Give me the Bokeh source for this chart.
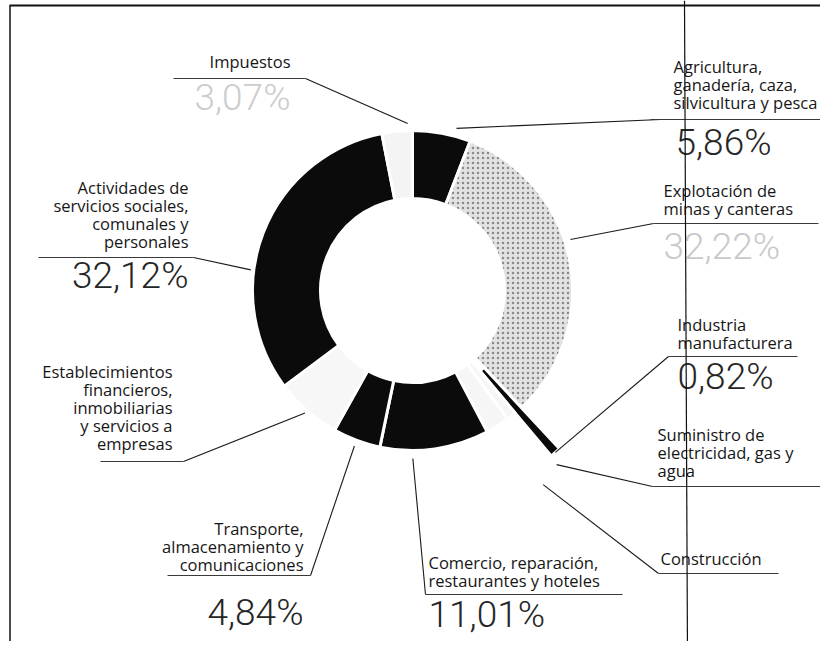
import math
from bokeh.plotting import figure
from bokeh.models import ColumnDataSource, Range1d
from bokeh.core.properties import value
from bokeh.embed import file_html
from bokeh.resources import INLINE

# ---------------- data ----------------
sectors = [
    "Agricultura, ganadería, caza, silvicultura y pesca",
    "Explotación de minas y canteras",
    "Industria manufacturera",
    "Suministro de electricidad, gas y agua",
    "Construcción",
    "Comercio, reparación, restaurantes y hoteles",
    "Transporte, almacenamiento y comunicaciones",
    "Establecimientos financieros, inmobiliarias y servicios a empresas",
    "Actividades de servicios sociales, comunales y personales",
    "Impuestos",
]
shares = [5.86, 32.22, 0.82, 0.95, 2.41, 11.01, 4.84, 6.70, 32.12, 3.07]
label_lines = [
    ["Agricultura,", "ganadería, caza,", "silvicultura y pesca"],
    ["Explotación de", "minas y canteras"],
    ["Industria", "manufacturera"],
    ["Suministro de", "electricidad, gas y", "agua"],
    ["Construcción"],
    ["Comercio, reparación,", "restaurantes y hoteles"],
    ["Transporte,", "almacenamiento y", "comunicaciones"],
    ["Establecimientos", "financieros,", "inmobiliarias", "y servicios a", "empresas"],
    ["Actividades de", "servicios sociales,", "comunales y", "personales"],
    ["Impuestos"],
]
pct_labels = ["5,86%", "32,22%", "0,82%", "", "", "11,01%", "4,84%", "", "32,12%", "3,07%"]

# ---------------- styles / layout (pixel coords from top-left) ----------------
fills = ["#0b0b0b", "#e2e2e2", "#0b0b0b", "#f6f6f6", "#f6f6f6",
         "#0b0b0b", "#0b0b0b", "#f7f7f7", "#0b0b0b", "#f4f4f4"]
hatches = [" ", "dot", " ", " ", " ", " ", " ", " ", " ", " "]
r_in = [92, 92, 105, 92, 92, 92, 92, 92, 92, 92]
r_out = [160, 160, 216, 160, 160, 160, 160, 160, 160, 160]
CX, CY = 412, 290

lab_x = [673, 663, 677, 657, 660, 428, 303, 172, 188, 290]
lab_align = ["left", "left", "left", "left", "left", "left", "right", "right", "right", "right"]
lab_base = [109, 215, 349, 477, 565, 587, 571, 450, 248, 68]
rule_y = [119, 223, 356, 486, 573, 594, 575, 461, 257, 78]
rule_x0 = [650, 653, 668, 652, 658, 425, 167, 100, 38, 173]
rule_x1 = [836, 818, 797, 836, 778, 622, 310, 183, 193, 305]
join_x = [660, 653, 668, 652, 658, 425, 310, 183, 193, 305]
anchor_frac = [0.72, 0.44, 0.5, 0.1, 0.3, 0.70, 0.5, 0.5, 0.38, 0.85]
anchor_r = [168, 166, 216, 226, 234, 168, 166, 163, 163, 167]
pct_base = [155, 259, 389, 0, 0, 627, 625, 0, 288, 110]
pct_color = ["#262626", "#c9c9c9", "#262626", "#262626", "#262626",
             "#262626", "#262626", "#262626", "#262626", "#cccccc"]
LINE_H = 18
NAME_SHIFT = 7     # renderer places text lower than the nominal baseline
PCT_SHIFT = 13

W, H = 820, 641

p = figure(width=W, height=H, x_range=Range1d(0, W), y_range=Range1d(-H, 0),
           output_backend="svg", toolbar_location=None, min_border=0,
           x_axis_location=None, y_axis_location=None)
p.grid.visible = False
p.outline_line_color = None
p.background_fill_color = "white"

# cumulative angles, clockwise from 12 o'clock
total = sum(shares)
starts, ends = [], []
c = 0.0
for v in shares:
    starts.append(c / total * 360.0)
    c += v
    ends.append(c / total * 360.0)

src = ColumnDataSource(dict(
    x=[CX] * len(shares), y=[-CY] * len(shares),
    ri=r_in, ro=r_out,
    sa=[math.radians(90 - s) for s in starts],
    ea=[math.radians(90 - e) for e in ends],
    fill=fills, hatch=hatches, name=sectors, share=shares,
))
p.annular_wedge(x="x", y="y", inner_radius="ri", outer_radius="ro",
                start_angle="sa", end_angle="ea", direction="clock",
                fill_color="fill", line_color="white", line_width=3,
                hatch_pattern="hatch", hatch_color="#8a8a8a", hatch_scale=5,
                hatch_weight=1, source=src)

# leader lines and rules
lx0, ly0, lx1, ly1 = [], [], [], []
for i in range(len(shares)):
    a = starts[i] + anchor_frac[i] * (ends[i] - starts[i])
    ar = math.radians(a)
    ax = CX + anchor_r[i] * math.sin(ar)
    ay = CY - anchor_r[i] * math.cos(ar)
    lx0.append(ax); ly0.append(-ay); lx1.append(join_x[i]); ly1.append(-rule_y[i])
p.segment(x0=lx0, y0=ly0, x1=lx1, y1=ly1, line_color="#1a1a1a", line_width=1.1)
p.segment(x0=rule_x0, y0=[-v for v in rule_y], x1=rule_x1, y1=[-v for v in rule_y],
          line_color="#3a3a3a", line_width=1.1)

# name labels
for i, lines in enumerate(label_lines):
    n = len(lines)
    ys = [-(lab_base[i] - NAME_SHIFT - (n - 1 - k) * LINE_H) for k in range(n)]
    p.text(x=[lab_x[i]] * n, y=ys, text=lines, text_align=lab_align[i],
           text_baseline="alphabetic", text_font=value("Open Sans"),
           text_font_size="16.5px", text_color="#161616")

# percentage labels
for i, t in enumerate(pct_labels):
    if not t:
        continue
    p.text(x=[lab_x[i] + (2 if i == 0 else 0)], y=[-(pct_base[i] - PCT_SHIFT)], text=[t],
           text_align=lab_align[i], text_baseline="alphabetic",
           text_font=value("Roboto Light"), text_font_size="37px",
           text_color=pct_color[i])

# scanned page frame lines
p.segment(x0=[9.5, 9, 684], y0=[-5, -5, 0], x1=[9.5, 836, 687], y1=[-657, -5, -657],
          line_color="#111111", line_width=[1.5, 2, 1.2])

open("out.html", "w").write(file_html(p, INLINE))
